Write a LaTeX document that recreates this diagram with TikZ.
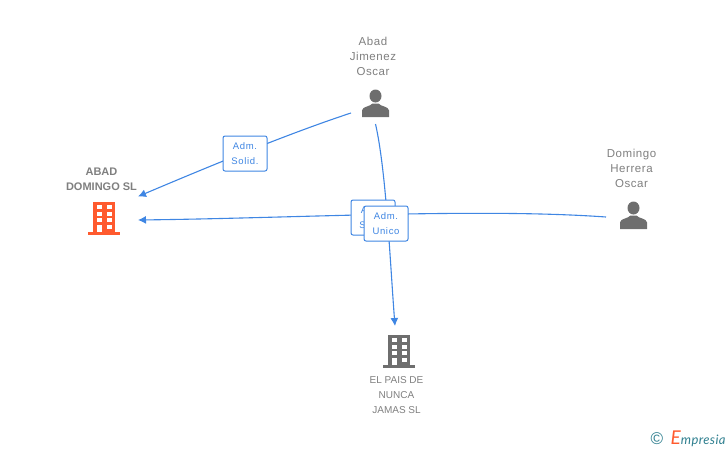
\documentclass[tikz,border=0pt]{standalone}
\usepackage{fontspec}
\setmainfont{Liberation Sans}
\newfontfamily\nombrefont[LetterSpace=5]{Liberation Sans}
\newfontfamily\cargofont[LetterSpace=7]{Liberation Sans}
\newfontfamily\logofont[LetterSpace=3]{Lato}
\usetikzlibrary{arrows.meta,positioning}
\definecolor{enlace}{HTML}{3F86E3}
\definecolor{gris}{HTML}{6E6E6E}
\definecolor{texto}{HTML}{7F7F7F}
\definecolor{naranja}{HTML}{FF5A2E}
\definecolor{marca}{HTML}{2F7F8F}
\tikzset{
	nombre/.style={
		text=texto,
		align=center,
		inner sep=0,
		font=\nombrefont\fontsize{11.5}{15}\selectfont},
	cargo/.style={
		rectangle,
		draw=enlace,
		fill=white,
		rounded corners=2,
		line width=1,
		text=enlace,
		align=center,
		inner sep=0,
		minimum width=44,
		minimum height=35,
		font=\cargofont\fontsize{9.5}{15}\selectfont},
	enlace/.style={
		draw=enlace,
		line width=1.1,
		->},
	edificio/.pic={
		\fill[pic actions] (-16,16.5) rectangle (16,13.5);
		\fill[pic actions] (-11,-16.5) rectangle (11,14);
		\foreach \fila in {-13,-6.5,0,6.5}
			\fill[white] (-7,\fila) rectangle (-2.5,\fila+4);
		\foreach \fila in {-13,-6.5,0,6.5}
			\fill[white] (3,\fila) rectangle (7.5,\fila+4);
		\fill[white] (-7,6.5) rectangle (-2.5,14);
	},
	persona/.pic={
		\fill[pic actions] (0,-7.5) ellipse (6 and 6.5);
		\fill[pic actions] (-13.5,13.5) -- (-13.5,7) .. controls (-13.5,3) and (-5,3) .. (-3,0) -- (3,0) .. controls (5,3) and (13.5,3) .. (13.5,7) -- (13.5,13.5) -- cycle;
	}
}

\begin{document}
\begin{tikzpicture}[x=1pt,y=-1pt,>={Latex[length=8,width=8]}]
	\useasboundingbox (0,0) rectangle (728,450);
	% iconos
	\pic[fill=naranja] at (104,218) {edificio};
	\pic[fill=gris] at (399,351) {edificio};
	\pic[fill=gris] at (375.5,103.5) {persona};
	\pic[fill=gris] at (633.5,215.5) {persona};
	% nombres
	\node[nombre,font=\fontsize{11}{15}\selectfont\bfseries] (abaddomingo) at (101.5,179.5) {ABAD\\DOMINGO SL};
	\node[nombre] (abad) at (373,56) {Abad\\Jimenez\\Oscar};
	\node[nombre] (domingo) at (631.5,168) {Domingo\\Herrera\\Oscar};
	\node[nombre,font=\fontsize{10}{15}\selectfont] (elpais) at (396.5,395) {EL PAIS DE\\NUNCA\\JAMAS SL};
	% extremos de los enlaces
	\coordinate (abad a) at (351,113);
	\coordinate (abad b) at (375.5,124);
	\coordinate (domingo a) at (606,217);
	\coordinate (abaddomingo a) at (138,196.5);
	\coordinate (abaddomingo b) at (138,220);
	\coordinate (elpais a) at (395,326);
	% enlaces
	\draw[enlace] (abad a) .. controls (290,133) and (210,166) .. (abaddomingo a);
	\draw[enlace] (domingo a) .. controls (480,208) and (300,218) .. (abaddomingo b);
	\draw[enlace] (abad b) .. controls (386,170) and (390,260) .. (elpais a);
	% cargos
	\node[cargo] (solidario) at (245,153.5) {Adm.\\Solid.};
	\node[cargo] (solidario2) at (373,217.5) {Adm.\\Solid.};
	\node[cargo] (unico) at (386,223.5) {Adm.\\Unico};
	% marca
	\node[inner sep=0,text=marca,font=\fontsize{17}{17}\selectfont] (copy) at (657,438.5) {\textcopyright};
	\node[inner sep=0,right=7 of copy,text=marca,font=\logofont\itshape\fontsize{13}{13}\selectfont] (marca) {\textcolor{naranja}{\fontsize{19}{19}\selectfont E}mpresia};
\end{tikzpicture}
\end{document}
